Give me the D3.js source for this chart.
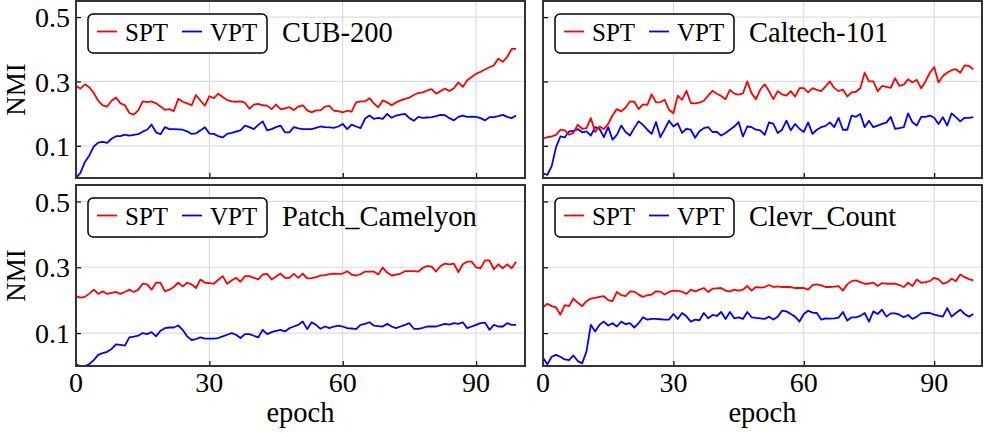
<!DOCTYPE html>
<html>
<head>
<meta charset="utf-8">
<script src="https://cdn.jsdelivr.net/npm/d3@7"></script>
<style>
  body { margin: 0; background: #fff; }
  text { font-family: "Liberation Serif", "Times New Roman", serif; fill: #000; }
</style>
</head>
<body>
<div id="chart"></div>
<script>
// NMI per epoch
var cubSpt = [0.286,0.278,0.291,0.282,0.264,0.24,0.226,0.222,0.24,0.25,0.232,0.226,0.202,0.197,0.21,0.238,0.236,0.238,0.232,0.222,
  0.212,0.214,0.208,0.246,0.237,0.232,0.226,0.258,0.24,0.225,0.254,0.248,0.262,0.252,0.242,0.238,0.237,0.238,0.234,0.215,
  0.228,0.23,0.226,0.225,0.214,0.228,0.214,0.216,0.22,0.211,0.222,0.226,0.21,0.204,0.21,0.21,0.222,0.224,0.209,0.208,
  0.204,0.209,0.206,0.235,0.238,0.238,0.248,0.232,0.22,0.241,0.235,0.226,0.235,0.241,0.246,0.25,0.258,0.264,0.266,0.272,
  0.276,0.262,0.27,0.278,0.27,0.279,0.297,0.283,0.304,0.314,0.324,0.33,0.337,0.344,0.35,0.371,0.361,0.376,0.401,0.401];
var cubVpt = [0.0,0.016,0.05,0.07,0.098,0.11,0.112,0.109,0.122,0.13,0.13,0.135,0.132,0.134,0.136,0.144,0.15,0.166,0.142,0.136,
  0.158,0.152,0.152,0.151,0.15,0.145,0.137,0.139,0.148,0.158,0.138,0.137,0.13,0.126,0.137,0.14,0.144,0.148,0.163,0.158,
  0.152,0.165,0.176,0.148,0.152,0.158,0.163,0.142,0.142,0.158,0.154,0.152,0.152,0.152,0.156,0.16,0.158,0.157,0.156,0.16,
  0.168,0.152,0.166,0.16,0.155,0.184,0.194,0.184,0.187,0.184,0.199,0.187,0.194,0.197,0.199,0.186,0.178,0.19,0.187,0.188,
  0.189,0.192,0.196,0.195,0.186,0.179,0.19,0.194,0.19,0.191,0.19,0.186,0.179,0.189,0.189,0.192,0.196,0.19,0.186,0.194];
var caltechSpt = [0.122,0.127,0.129,0.134,0.15,0.148,0.135,0.14,0.166,0.153,0.155,0.186,0.143,0.16,0.152,0.168,0.195,0.214,0.207,0.219,
  0.238,0.237,0.214,0.229,0.227,0.26,0.235,0.236,0.243,0.212,0.201,0.256,0.243,0.271,0.233,0.232,0.234,0.24,0.256,0.271,
  0.262,0.255,0.245,0.274,0.262,0.259,0.263,0.3,0.263,0.245,0.275,0.291,0.27,0.245,0.27,0.26,0.256,0.27,0.253,0.279,
  0.279,0.266,0.279,0.274,0.27,0.285,0.3,0.28,0.27,0.275,0.253,0.266,0.268,0.279,0.327,0.3,0.3,0.27,0.286,0.283,
  0.28,0.31,0.286,0.29,0.307,0.297,0.305,0.279,0.3,0.327,0.345,0.297,0.317,0.328,0.335,0.338,0.327,0.35,0.348,0.338];
var caltechVpt = [0.014,0.01,0.037,0.096,0.129,0.126,0.145,0.146,0.152,0.142,0.145,0.132,0.158,0.153,0.127,0.158,0.119,0.134,0.163,0.143,
  0.132,0.155,0.176,0.165,0.15,0.137,0.174,0.127,0.152,0.178,0.16,0.17,0.14,0.153,0.15,0.125,0.145,0.155,0.158,0.143,
  0.143,0.132,0.14,0.15,0.16,0.174,0.129,0.16,0.158,0.15,0.148,0.134,0.173,0.168,0.14,0.15,0.178,0.148,0.168,0.153,
  0.143,0.173,0.137,0.15,0.158,0.162,0.173,0.158,0.187,0.15,0.15,0.194,0.19,0.199,0.158,0.178,0.158,0.163,0.168,0.172,
  0.19,0.153,0.155,0.158,0.201,0.173,0.163,0.19,0.19,0.194,0.187,0.168,0.189,0.163,0.201,0.189,0.176,0.187,0.187,0.189];
var patchSpt = [0.212,0.208,0.21,0.22,0.232,0.219,0.227,0.219,0.222,0.225,0.219,0.225,0.232,0.225,0.232,0.25,0.248,0.232,0.253,0.253,
  0.227,0.232,0.24,0.253,0.242,0.253,0.248,0.237,0.263,0.253,0.252,0.25,0.262,0.273,0.25,0.26,0.268,0.256,0.273,0.273,
  0.268,0.263,0.278,0.28,0.263,0.272,0.281,0.268,0.268,0.28,0.268,0.281,0.266,0.267,0.27,0.275,0.276,0.279,0.281,0.28,
  0.281,0.288,0.278,0.275,0.279,0.287,0.287,0.287,0.278,0.299,0.284,0.275,0.278,0.281,0.288,0.288,0.288,0.287,0.298,0.304,
  0.302,0.287,0.304,0.311,0.309,0.311,0.285,0.309,0.317,0.317,0.3,0.297,0.321,0.321,0.294,0.309,0.297,0.309,0.297,0.317];
var patchVpt = [0.005,0.0,0.0,0.006,0.018,0.034,0.039,0.043,0.052,0.066,0.064,0.062,0.087,0.089,0.092,0.1,0.097,0.103,0.09,0.107,
  0.115,0.117,0.117,0.123,0.11,0.09,0.079,0.082,0.087,0.083,0.083,0.083,0.085,0.09,0.095,0.1,0.095,0.085,0.097,0.097,
  0.092,0.087,0.11,0.097,0.103,0.107,0.11,0.105,0.115,0.12,0.125,0.135,0.112,0.133,0.125,0.113,0.12,0.115,0.12,0.123,
  0.12,0.115,0.114,0.112,0.125,0.128,0.133,0.123,0.121,0.12,0.128,0.12,0.115,0.12,0.125,0.13,0.113,0.113,0.116,0.12,
  0.12,0.12,0.124,0.128,0.126,0.13,0.128,0.133,0.115,0.12,0.125,0.13,0.132,0.11,0.125,0.12,0.12,0.13,0.125,0.125];
var clevrSpt = [0.178,0.189,0.182,0.178,0.156,0.185,0.182,0.205,0.192,0.182,0.197,0.205,0.207,0.21,0.212,0.2,0.197,0.225,0.215,0.212,
  0.227,0.226,0.217,0.21,0.215,0.217,0.227,0.226,0.217,0.225,0.229,0.228,0.226,0.219,0.232,0.227,0.232,0.237,0.225,0.235,
  0.236,0.237,0.229,0.227,0.232,0.229,0.232,0.243,0.229,0.24,0.238,0.24,0.246,0.24,0.242,0.24,0.24,0.24,0.237,0.237,
  0.237,0.232,0.246,0.248,0.245,0.24,0.24,0.241,0.243,0.229,0.248,0.258,0.26,0.255,0.25,0.25,0.253,0.243,0.252,0.25,
  0.25,0.25,0.246,0.24,0.253,0.243,0.263,0.253,0.255,0.258,0.268,0.263,0.25,0.254,0.265,0.258,0.278,0.27,0.264,0.26];
var clevrVpt = [0.025,0.005,0.028,0.034,0.028,0.02,0.018,0.032,0.015,0.008,0.044,0.125,0.105,0.125,0.135,0.123,0.13,0.12,0.135,0.127,
  0.13,0.117,0.13,0.148,0.141,0.143,0.143,0.142,0.141,0.141,0.158,0.143,0.161,0.151,0.135,0.141,0.139,0.161,0.145,0.155,
  0.152,0.164,0.143,0.164,0.145,0.148,0.143,0.164,0.148,0.146,0.145,0.143,0.15,0.141,0.15,0.168,0.166,0.158,0.15,0.135,
  0.158,0.168,0.162,0.161,0.141,0.145,0.144,0.145,0.147,0.164,0.138,0.148,0.148,0.152,0.161,0.135,0.166,0.158,0.171,0.15,
  0.16,0.16,0.156,0.148,0.155,0.143,0.15,0.16,0.161,0.161,0.156,0.153,0.15,0.176,0.15,0.161,0.171,0.158,0.15,0.158];

var titles = ["CUB-200", "Caltech-101", "Patch_Camelyon", "Clevr_Count"];
var sptSeries = [cubSpt, caltechSpt, patchSpt, clevrSpt];
var vptSeries = [cubVpt, caltechVpt, patchVpt, clevrVpt];
var xTicks = [0, 30, 60, 90];
var yTicks = [0.1, 0.3, 0.5];
var seriesNames = ["SPT", "VPT"];
var seriesColors = ["#ff0000", "#0000ff"];

var svgWidth = 984;
var svgHeight = 433;

// panel boxes in pixels
var panels = [
  {x: 76, y: 1, w: 449, h: 177},
  {x: 543, y: 1, w: 439, h: 177},
  {x: 76, y: 185, w: 449, h: 181},
  {x: 543, y: 185, w: 439, h: 181}
];

var svg = d3.select("#chart")
  .append("svg")
  .attr("width", svgWidth)
  .attr("height", svgHeight);

panels.forEach(function(p, i) {
  var g = svg.append("g")
    .attr("transform", `translate(${p.x}, ${p.y})`);

  var x = d3.scaleLinear().domain([0, 101]).range([0, p.w]);
  var y = d3.scaleLinear().domain([0, 0.55]).range([p.h, 0]);

  // grid
  g.selectAll(".vgrid")
    .data(xTicks.filter(d => d > 0))
    .enter()
    .append("line")
    .attr("x1", d => x(d)).attr("x2", d => x(d))
    .attr("y1", 0).attr("y2", p.h)
    .attr("stroke", "#d6d6d6")
    .attr("stroke-width", 1);

  g.selectAll(".hgrid")
    .data(yTicks)
    .enter()
    .append("line")
    .attr("x1", 0).attr("x2", p.w)
    .attr("y1", d => y(d)).attr("y2", d => y(d))
    .attr("stroke", "#dedede")
    .attr("stroke-width", 1.2);

  // inward ticks
  var bottomAxis = d3.axisBottom(x).tickValues(xTicks).tickSize(-5).tickFormat("");
  var leftAxis = d3.axisLeft(y).tickValues(yTicks).tickSize(-5).tickFormat("");

  var bx = g.append("g")
    .attr("transform", `translate(0, ${p.h})`)
    .call(bottomAxis);
  bx.select(".domain").remove();
  bx.selectAll("line").attr("stroke", "#000").attr("stroke-width", 1.2);

  var ly = g.append("g").call(leftAxis);
  ly.select(".domain").remove();
  ly.selectAll("line").attr("stroke", "#000").attr("stroke-width", 1.2);

  // lines
  var line = d3.line()
    .x((d, j) => x(j))
    .y(d => y(d));

  g.append("path")
    .datum(vptSeries[i])
    .attr("fill", "none")
    .attr("stroke", seriesColors[1])
    .attr("stroke-width", 1.8)
    .attr("stroke-linejoin", "round")
    .attr("d", line);

  g.append("path")
    .datum(sptSeries[i])
    .attr("fill", "none")
    .attr("stroke", seriesColors[0])
    .attr("stroke-width", 1.8)
    .attr("stroke-linejoin", "round")
    .attr("d", line);

  // frame
  g.append("rect")
    .attr("width", p.w)
    .attr("height", p.h)
    .attr("fill", "none")
    .attr("stroke", "#333")
    .attr("stroke-width", 2);

  // legend
  var lg = g.append("g").attr("transform", "translate(12, 13)");
  lg.append("rect")
    .attr("width", 179)
    .attr("height", 39)
    .attr("rx", 5)
    .attr("fill", "#fff")
    .attr("stroke", "#000")
    .attr("stroke-width", 1.5);

  seriesNames.forEach(function(name, k) {
    var off = k * 85;
    lg.append("line")
      .attr("x1", 9 + off).attr("x2", 29 + off)
      .attr("y1", 17.5).attr("y2", 17.5)
      .attr("stroke", seriesColors[k])
      .attr("stroke-width", 1.8);
    lg.append("text")
      .attr("x", 37 + off)
      .attr("y", 26.5)
      .style("font-size", "25px")
      .text(name);
  });

  // dataset name
  g.append("text")
    .attr("x", 206)
    .attr("y", 41)
    .style("font-size", "28.5px")
    .text(titles[i]);

  // tick labels
  if (i % 2 == 0) {
    g.selectAll(".ylab")
      .data(yTicks)
      .enter()
      .append("text")
      .attr("x", -6)
      .attr("y", d => y(d))
      .attr("dy", "0.36em")
      .attr("text-anchor", "end")
      .style("font-size", "28px")
      .text(d => d3.format(".1f")(d));

    g.append("text")
      .attr("transform", `translate(${24.5 - p.x}, ${p.h / 2}) rotate(-90)`)
      .attr("text-anchor", "middle")
      .style("font-size", "27px")
      .text("NMI");
  }
  if (i >= 2) {
    g.selectAll(".xlab")
      .data(xTicks)
      .enter()
      .append("text")
      .attr("x", d => x(d))
      .attr("y", p.h + 26)
      .attr("text-anchor", "middle")
      .style("font-size", "28px")
      .text(d => d);

    g.append("text")
      .attr("x", p.w / 2)
      .attr("y", p.h + 56)
      .attr("text-anchor", "middle")
      .style("font-size", "28.5px")
      .text("epoch");
  }
});
</script>
</body>
</html>
